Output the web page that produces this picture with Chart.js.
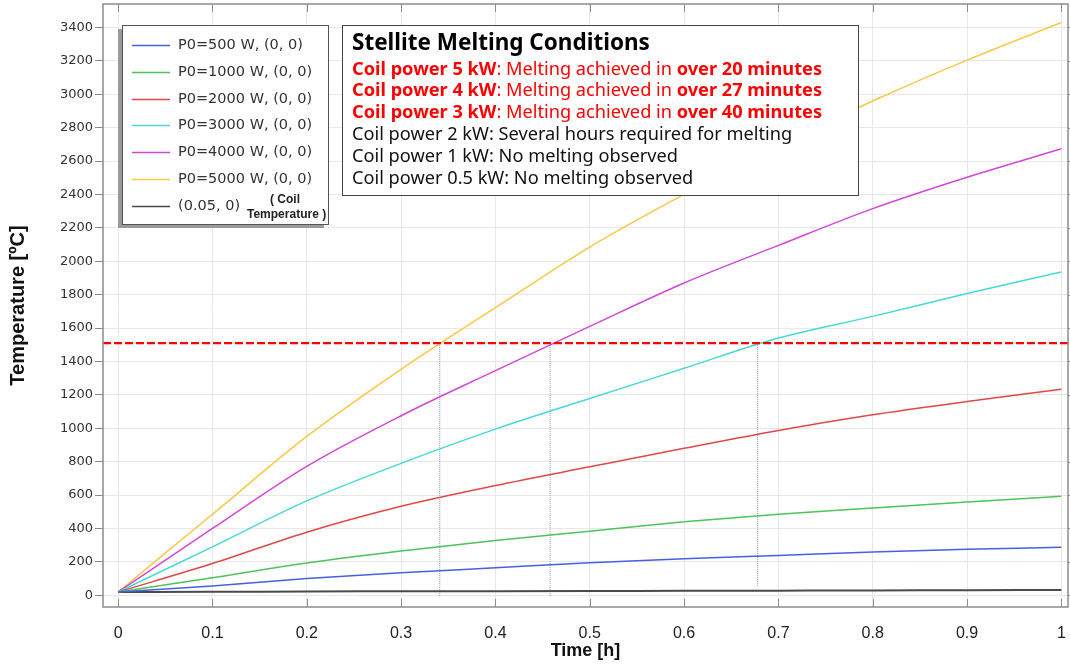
<!DOCTYPE html>
<html>
<head>
<meta charset="utf-8">
<script src="https://cdn.jsdelivr.net/npm/chart.js@4.4.0/dist/chart.umd.min.js"></script>
<style>
  html, body { margin: 0; padding: 0; background: #fff; }
  #wrap { width: 1070px; height: 664px; position: relative; }
</style>
</head>
<body>
<div id="wrap"><canvas id="myChart"></canvas></div>
<script>
// values (time in h, temperature in degC)
const times = [0, 0.1, 0.2, 0.3, 0.4, 0.5, 0.6, 0.7, 0.8, 0.9, 1.0];
const p500 = [20, 55, 100, 135, 165, 195, 219, 239, 259, 275, 287];
const p1000 = [20, 105, 193, 265, 328, 384, 440, 486, 523, 559, 593];
const p2000 = [20, 190, 378, 533, 657, 769, 880, 987, 1081, 1160, 1234];
const p3000 = [20, 290, 565, 790, 995, 1178, 1359, 1540, 1670, 1807, 1936];
const p4000 = [20, 400, 772, 1075, 1345, 1610, 1870, 2095, 2315, 2503, 2673];
const p5000 = [20, 485, 951, 1353, 1722, 2085, 2400, 2690, 2959, 3204, 3429];
const coilTemp = [20, 21, 23, 24, 25, 26, 27, 28, 29, 31, 32];

const seriesLabels = ['P0=500 W, (0, 0)', 'P0=1000 W, (0, 0)', 'P0=2000 W, (0, 0)',
  'P0=3000 W, (0, 0)', 'P0=4000 W, (0, 0)', 'P0=5000 W, (0, 0)', '(0.05, 0)'];
const seriesColors = ['#4660e0', '#4cc45c', '#e04848', '#48d8d8', '#d048d8', '#f8c848', '#4a4a4a'];
const seriesValues = [p500, p1000, p2000, p3000, p4000, p5000, coilTemp];

// melting point and the times each curve reaches it
const meltTemp = 1510;
const meltTimes = [0.341, 0.458, 0.678];
const dropEnds = [-5, -5, 55];

const xTickValues = [0, 0.1, 0.2, 0.3, 0.4, 0.5, 0.6, 0.7, 0.8, 0.9, 1];
const yTickValues = [0, 200, 400, 600, 800, 1000, 1200, 1400, 1600, 1800, 2000,
  2200, 2400, 2600, 2800, 3000, 3200, 3400];
const xMin = -0.016, xMax = 1.007;
const yMin = -70, yMax = 3540;

const noteRows = [
  { color: '#ff0000', parts: [['Coil power 5 kW', true], [': Melting achieved in ', false], ['over 20 minutes', true]] },
  { color: '#ff0000', parts: [['Coil power 4 kW', true], [': Melting achieved in ', false], ['over 27 minutes', true]] },
  { color: '#ff0000', parts: [['Coil power 3 kW', true], [': Melting achieved in ', false], ['over 40 minutes', true]] },
  { color: '#111', parts: [['Coil power 2 kW: Several hours required for melting', false]] },
  { color: '#111', parts: [['Coil power 1 kW: No melting observed', false]] },
  { color: '#111', parts: [['Coil power 0.5 kW: No melting observed', false]] }
];

const datasets = [];
datasets.push({
  data: [{ x: xMin, y: meltTemp }, { x: xMax, y: meltTemp }],
  borderColor: '#ff0000', borderWidth: 2.4, borderDash: [8, 3], order: -1
});
seriesValues.forEach((vals, i) => {
  datasets.push({
    label: seriesLabels[i],
    data: times.map((t, k) => ({ x: t, y: vals[k] })),
    borderColor: seriesColors[i],
    borderWidth: i === 6 ? 2 : 1.5,
    cubicInterpolationMode: 'monotone',
    order: 1
  });
});
meltTimes.forEach((t, i) => {
  datasets.push({
    data: [{ x: t, y: meltTemp }, { x: t, y: dropEnds[i] }],
    borderColor: '#7d9bc6', borderWidth: 1, borderDash: [1, 1], order: 2
  });
});

// plot frame with inside ticks on top and bottom
const framePlugin = {
  id: 'frame',
  afterDatasetsDraw(chart) {
    const ctx = chart.ctx, a = chart.chartArea;
    const xs = chart.scales.x, ys = chart.scales.y;
    ctx.save();
    ctx.strokeStyle = '#8c8c8c';
    ctx.lineWidth = 1;
    xTickValues.forEach(v => {
      const px = Math.round(xs.getPixelForValue(v)) + 0.5;
      ctx.beginPath();
      ctx.moveTo(px, a.bottom); ctx.lineTo(px, a.bottom - 8);
      ctx.moveTo(px, a.top); ctx.lineTo(px, a.top + 8);
      ctx.stroke();
    });
    yTickValues.forEach(v => {
      const py = Math.round(ys.getPixelForValue(v)) + 0.5;
      ctx.beginPath();
      ctx.moveTo(a.right, py); ctx.lineTo(a.right + 3, py);
      ctx.stroke();
    });
    ctx.lineWidth = 1.5;
    ctx.strokeRect(a.left, a.top, a.right - a.left, a.bottom - a.top);
    ctx.restore();
  }
};

const legendPlugin = {
  id: 'boxLegend',
  afterDraw(chart) {
    const ctx = chart.ctx;
    const x = 122, y = 25, w = 206, h = 199;
    ctx.save();
    ctx.fillStyle = '#9a9a9a';
    ctx.fillRect(x - 4, y + 4, w, h);
    ctx.fillStyle = '#fff';
    ctx.fillRect(x, y, w, h);
    ctx.strokeStyle = '#555';
    ctx.lineWidth = 1;
    ctx.strokeRect(x + 0.5, y + 0.5, w, h);
    ctx.font = '14.5px "DejaVu Sans"';
    ctx.textBaseline = 'middle';
    seriesLabels.forEach((lab, i) => {
      const ry = Math.round(y + 20 + i * 26.8) + 0.5;
      ctx.strokeStyle = seriesColors[i];
      ctx.lineWidth = 1.5;
      ctx.beginPath(); ctx.moveTo(x + 10, ry); ctx.lineTo(x + 48, ry); ctx.stroke();
      ctx.fillStyle = '#333';
      ctx.fillText(lab, x + 56, ry);
    });
    ctx.font = 'bold 12px "Liberation Sans Narrow", "Liberation Sans"';
    ctx.fillStyle = '#222';
    ctx.fillText('( Coil', x + 148, y + 175);
    ctx.fillText('Temperature )', x + 125, y + 190);
    ctx.restore();
  }
};

const notePlugin = {
  id: 'noteBox',
  afterDraw(chart) {
    const ctx = chart.ctx;
    const x = 342, y = 25, w = 516, h = 170;
    ctx.save();
    ctx.fillStyle = '#fff';
    ctx.fillRect(x, y, w, h);
    ctx.strokeStyle = '#444';
    ctx.lineWidth = 1;
    ctx.strokeRect(x + 0.5, y + 0.5, w, h);
    ctx.textBaseline = 'middle';
    ctx.fillStyle = '#000';
    ctx.font = 'bold 22.5px "Noto Sans"';
    ctx.fillText('Stellite Melting Conditions', x + 10, y + 19);
    noteRows.forEach((row, i) => {
      let cx = x + 10;
      const cy = y + 44.5 + i * 21.8;
      ctx.fillStyle = row.color;
      row.parts.forEach(p => {
        ctx.font = (p[1] ? 'bold ' : '') + '18.2px "Noto Sans"';
        ctx.fillText(p[0], cx, cy);
        cx += ctx.measureText(p[0]).width;
      });
    });
    ctx.restore();
  }
};

new Chart(document.getElementById('myChart'), {
  type: 'line',
  data: { datasets },
  options: {
    responsive: true,
    maintainAspectRatio: false,
    animation: false,
    layout: { padding: { top: 4, right: 2, left: 0, bottom: 0 } },
    elements: { point: { radius: 0 }, line: { tension: 0, fill: false } },
    plugins: { legend: { display: false }, tooltip: { enabled: false } },
    scales: {
      x: {
        type: 'linear', min: xMin, max: xMax,
        afterBuildTicks: s => { s.ticks = xTickValues.map(v => ({ value: v })); },
        afterFit: s => { s.height = 57; s.paddingLeft = 0; s.paddingRight = 0; },
        border: { display: false },
        grid: { color: '#e8e8e8', drawTicks: false },
        ticks: {
          padding: 17, color: '#222', maxRotation: 0,
          font: { family: '"Liberation Sans Narrow", "Liberation Sans"', size: 16 },
          callback: v => String(Math.round(v * 10) / 10)
        },
        title: {
          display: true, text: 'Time [h]', color: '#111',
          font: { family: '"Liberation Sans"', size: 18, weight: 'bold' },
          padding: { top: 0, bottom: 2 }
        }
      },
      y: {
        type: 'linear', min: yMin, max: yMax,
        afterBuildTicks: s => { s.ticks = yTickValues.map(v => ({ value: v })); },
        afterFit: s => { s.width = 103; s.paddingTop = 0; s.paddingBottom = 0; },
        border: { display: false },
        grid: { color: '#e8e8e8', tickColor: '#8c8c8c', tickLength: 8 },
        ticks: {
          padding: 2, color: '#333',
          font: { family: '"DejaVu Sans"', size: 13 },
          callback: v => String(v)
        },
        title: {
          display: true, text: 'Temperature [ºC]', color: '#111',
          font: { family: '"Liberation Sans"', size: 20, weight: 'bold' },
          padding: { top: 6, bottom: 0 }
        }
      }
    }
  },
  plugins: [framePlugin, legendPlugin, notePlugin]
});
</script>
</body>
</html>
